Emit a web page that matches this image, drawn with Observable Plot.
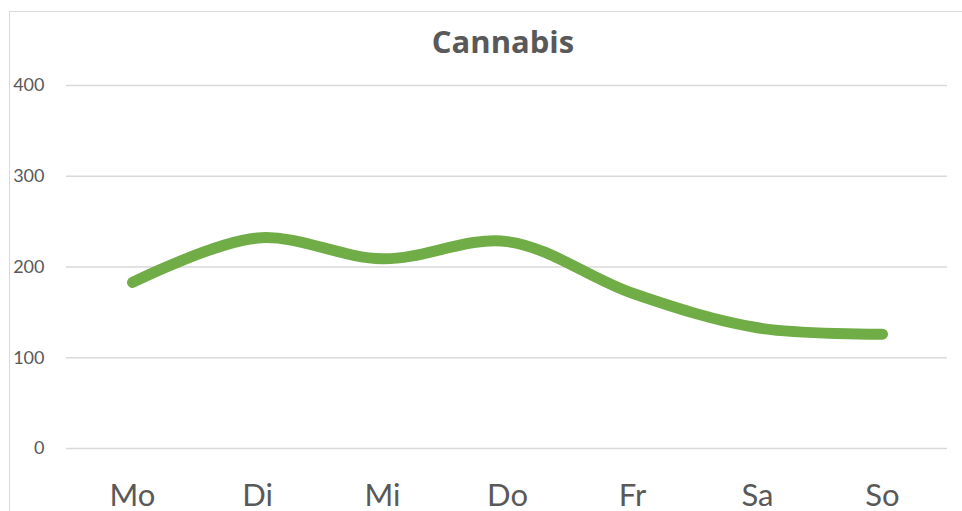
<!DOCTYPE html>
<html>
<head>
<meta charset="utf-8">
<script src="https://cdn.jsdelivr.net/npm/d3@7"></script>
<script src="https://cdn.jsdelivr.net/npm/@observablehq/plot@0.6"></script>
<style>
  html, body { margin: 0; padding: 0; background: #fff; overflow: hidden; }
  #wrap { position: relative; width: 962px; height: 511px; }
  #frame { position: absolute; left: 9px; top: 11px; width: 1000px; height: 600px; border: 1px solid #d9d9d9; box-sizing: border-box; }
  #chart { position: absolute; left: 0; top: 0; }
</style>
</head>
<body>
<div id="wrap"><div id="frame"></div><div id="chart"></div></div>
<script>
const title = "Cannabis";
const days = ["Mo", "Di", "Mi", "Do", "Fr", "Sa", "So"];
const values = [183, 232, 209, 228, 171, 133, 126];
const yTicks = [0, 100, 200, 300, 400];

const data = days.map((d, i) => ({day: d, value: values[i]}));
const textColor = "#595959";
const font = "Lato, 'Open Sans', sans-serif";

const chart = Plot.plot({
  width: 962,
  height: 511,
  marginLeft: 66,
  marginRight: 15,
  marginTop: 85,
  marginBottom: 63,
  style: {fontFamily: font, color: textColor, background: "transparent", overflow: "visible"},
  x: {type: "point", domain: days, padding: 0.5, label: null},
  y: {domain: [0, 400], label: null},
  marks: [
    Plot.ruleY(yTicks, {stroke: "#d9d9d9", strokeWidth: 1.3}),
    Plot.axisY({ticks: yTicks, tickSize: 0, tickPadding: 22, fontSize: 18, label: null, fill: textColor}),
    Plot.axisX({tickSize: 0, tickPadding: 35, fontSize: 31, label: null, fill: textColor}),
    Plot.line(data, {x: "day", y: "value", curve: "catmull-rom", stroke: "#70AD47", strokeWidth: 11, strokeLinecap: "round", strokeLinejoin: "round"}),
    Plot.text([title], {frameAnchor: "top", lineAnchor: "bottom", dy: -33, fontSize: 31, fontWeight: "bold", fontFamily: "'Open Sans', sans-serif", fill: textColor, dx: -4})
  ]
});
document.getElementById("chart").appendChild(chart);
</script>
</body>
</html>
